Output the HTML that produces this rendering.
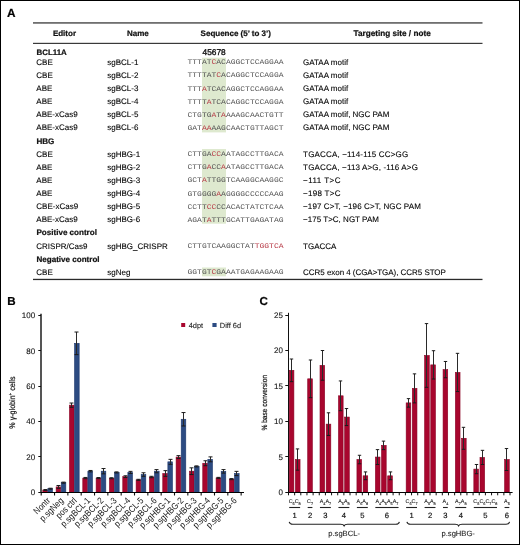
<!DOCTYPE html>
<html><head><meta charset="utf-8"><title>Figure</title>
<style>
html,body{margin:0;padding:0;background:#fff;}
body{width:520px;height:545px;overflow:hidden;font-family:"Liberation Sans",sans-serif;}
.fig{position:relative;width:520px;height:545px;background:#fff;}
svg{position:absolute;left:0;top:0;display:block;will-change:transform;text-rendering:geometricPrecision;}
</style></head><body>
<div class="fig">
<svg width="520" height="545" viewBox="0 0 520 545" font-family="Liberation Sans, sans-serif">
<text x="6.90" y="16.90" font-size="11.8" font-weight="bold" fill="#000" stroke="#000" stroke-width="0.22">A</text>
<rect x="33.00" y="22.00" width="449.50" height="1.80" fill="#707070"/>
<rect x="33.00" y="42.80" width="449.50" height="1.20" fill="#3a3a3a"/>
<rect x="33.00" y="278.80" width="449.50" height="1.30" fill="#2a2a2a"/>
<text x="52.90" y="35.80" font-size="8" font-weight="bold" fill="#111" stroke="#111" stroke-width="0.22">Editor</text>
<text x="127.00" y="35.80" font-size="8" font-weight="bold" fill="#111" stroke="#111" stroke-width="0.22">Name</text>
<text x="200.60" y="35.80" font-size="8" font-weight="bold" fill="#111" stroke="#111" stroke-width="0.22">Sequence (5’ to 3’)</text>
<text x="353.50" y="35.80" font-size="8.2" font-weight="bold" fill="#111" stroke="#111" stroke-width="0.22">Targeting site / note</text>
<rect x="202.00" y="57.70" width="24.00" height="74.70" fill="#dee9cf"/>
<rect x="202.00" y="149.00" width="24.00" height="74.70" fill="#dee9cf"/>
<rect x="202.00" y="267.50" width="24.00" height="8.80" fill="#dee9cf"/>
<text x="36.50" y="55.00" font-size="7.9" font-weight="bold" fill="#111" stroke="#111" stroke-width="0.22">BCL11A</text>
<text x="202.60" y="54.90" font-size="8.3" fill="#111" stroke="#111" stroke-width="0.35">45678</text>
<text x="36.30" y="64.85" font-size="8.0" fill="#000" stroke="#000" stroke-width="0.1">CBE</text>
<text x="107.30" y="64.85" font-size="8.0" fill="#000" stroke="#000" stroke-width="0.1">sgBCL-1</text>
<text transform="translate(187.5,64.35) scale(1,0.88)" font-size="8" font-family="Liberation Mono, monospace" fill="#555" textLength="96.0" lengthAdjust="spacing">TTTAT<tspan fill="#b83c48">C</tspan>ACAGGCTCCAGGAA</text>
<text x="303.10" y="64.85" font-size="8.0" fill="#000" stroke="#000" stroke-width="0.1">GATAA motif</text>
<text x="36.30" y="77.97" font-size="8.0" fill="#000" stroke="#000" stroke-width="0.1">CBE</text>
<text x="107.30" y="77.97" font-size="8.0" fill="#000" stroke="#000" stroke-width="0.1">sgBCL-2</text>
<text transform="translate(187.5,77.47) scale(1,0.88)" font-size="8" font-family="Liberation Mono, monospace" fill="#555" textLength="96.0" lengthAdjust="spacing">TTTTAT<tspan fill="#b83c48">C</tspan>ACAGGCTCCAGGA</text>
<text x="303.10" y="77.97" font-size="8.0" fill="#000" stroke="#000" stroke-width="0.1">GATAA motif</text>
<text x="36.30" y="91.09" font-size="8.0" fill="#000" stroke="#000" stroke-width="0.1">ABE</text>
<text x="107.30" y="91.09" font-size="8.0" fill="#000" stroke="#000" stroke-width="0.1">sgBCL-3</text>
<text transform="translate(187.5,90.59) scale(1,0.88)" font-size="8" font-family="Liberation Mono, monospace" fill="#555" textLength="96.0" lengthAdjust="spacing">TTT<tspan fill="#b83c48">A</tspan>TCACAGGCTCCAGGAA</text>
<text x="303.10" y="91.09" font-size="8.0" fill="#000" stroke="#000" stroke-width="0.1">GATAA motif</text>
<text x="36.30" y="104.21" font-size="8.0" fill="#000" stroke="#000" stroke-width="0.1">ABE</text>
<text x="107.30" y="104.21" font-size="8.0" fill="#000" stroke="#000" stroke-width="0.1">sgBCL-4</text>
<text transform="translate(187.5,103.71) scale(1,0.88)" font-size="8" font-family="Liberation Mono, monospace" fill="#555" textLength="96.0" lengthAdjust="spacing">TTTT<tspan fill="#b83c48">A</tspan>TCACAGGCTCCAGGA</text>
<text x="303.10" y="104.21" font-size="8.0" fill="#000" stroke="#000" stroke-width="0.1">GATAA motif</text>
<text x="36.30" y="117.33" font-size="8.0" fill="#000" stroke="#000" stroke-width="0.1">ABE-xCas9</text>
<text x="107.30" y="117.33" font-size="8.0" fill="#000" stroke="#000" stroke-width="0.1">sgBCL-5</text>
<text transform="translate(187.5,116.83) scale(1,0.88)" font-size="8" font-family="Liberation Mono, monospace" fill="#555" textLength="96.0" lengthAdjust="spacing">CTGTG<tspan fill="#b83c48">A</tspan>T<tspan fill="#b83c48">A</tspan>AAAGCAACTGTT</text>
<text x="303.10" y="117.33" font-size="8.0" fill="#000" stroke="#000" stroke-width="0.1">GATAA motif, NGC PAM</text>
<text x="36.30" y="130.45" font-size="8.0" fill="#000" stroke="#000" stroke-width="0.1">ABE-xCas9</text>
<text x="107.30" y="130.45" font-size="8.0" fill="#000" stroke="#000" stroke-width="0.1">sgBCL-6</text>
<text transform="translate(187.5,129.95) scale(1,0.88)" font-size="8" font-family="Liberation Mono, monospace" fill="#555" textLength="96.0" lengthAdjust="spacing">GAT<tspan fill="#b83c48">AA</tspan>AAGCAACTGTTAGCT</text>
<text x="303.10" y="130.45" font-size="8.0" fill="#000" stroke="#000" stroke-width="0.1">GATAA motif, NGC PAM</text>
<text x="36.50" y="143.57" font-size="8.05" font-weight="bold" fill="#111" stroke="#111" stroke-width="0.22">HBG</text>
<text x="36.30" y="156.69" font-size="8.0" fill="#000" stroke="#000" stroke-width="0.1">CBE</text>
<text x="107.30" y="156.69" font-size="8.0" fill="#000" stroke="#000" stroke-width="0.1">sgHBG-1</text>
<text transform="translate(187.5,156.19) scale(1,0.88)" font-size="8" font-family="Liberation Mono, monospace" fill="#555" textLength="96.0" lengthAdjust="spacing">CTTGA<tspan fill="#b83c48">CC</tspan>AATAGCCTTGACA</text>
<text x="303.10" y="156.69" font-size="8.0" fill="#000" textLength="105.10" lengthAdjust="spacing" stroke="#000" stroke-width="0.1">TGACCA, −114-115 CC&gt;GG</text>
<text x="36.30" y="169.81" font-size="8.0" fill="#000" stroke="#000" stroke-width="0.1">ABE</text>
<text x="107.30" y="169.81" font-size="8.0" fill="#000" stroke="#000" stroke-width="0.1">sgHBG-2</text>
<text transform="translate(187.5,169.31) scale(1,0.88)" font-size="8" font-family="Liberation Mono, monospace" fill="#555" textLength="96.0" lengthAdjust="spacing">CTTG<tspan fill="#b83c48">A</tspan>CC<tspan fill="#b83c48">A</tspan>ATAGCCTTGACA</text>
<text x="303.10" y="169.81" font-size="8.0" fill="#000" textLength="114.80" lengthAdjust="spacing" stroke="#000" stroke-width="0.1">TGACCA, −113 A&gt;G, -116 A&gt;G</text>
<text x="36.30" y="182.93" font-size="8.0" fill="#000" stroke="#000" stroke-width="0.1">ABE</text>
<text x="107.30" y="182.93" font-size="8.0" fill="#000" stroke="#000" stroke-width="0.1">sgHBG-3</text>
<text transform="translate(187.5,182.43) scale(1,0.88)" font-size="8" font-family="Liberation Mono, monospace" fill="#555" textLength="96.0" lengthAdjust="spacing">GCT<tspan fill="#b83c48">A</tspan>TTGGTCAAGGCAAGGC</text>
<text x="303.10" y="182.93" font-size="8.0" fill="#000" textLength="37.40" lengthAdjust="spacing" stroke="#000" stroke-width="0.1">−111 T&gt;C</text>
<text x="36.30" y="196.05" font-size="8.0" fill="#000" stroke="#000" stroke-width="0.1">ABE</text>
<text x="107.30" y="196.05" font-size="8.0" fill="#000" stroke="#000" stroke-width="0.1">sgHBG-4</text>
<text transform="translate(187.5,195.55) scale(1,0.88)" font-size="8" font-family="Liberation Mono, monospace" fill="#555" textLength="96.0" lengthAdjust="spacing">GTGGGG<tspan fill="#b83c48">A</tspan>AGGGGCCCCCAAG</text>
<text x="303.10" y="196.05" font-size="8.0" fill="#000" textLength="37.40" lengthAdjust="spacing" stroke="#000" stroke-width="0.1">−198 T&gt;C</text>
<text x="36.30" y="209.17" font-size="8.0" fill="#000" stroke="#000" stroke-width="0.1">CBE-xCas9</text>
<text x="107.30" y="209.17" font-size="8.0" fill="#000" stroke="#000" stroke-width="0.1">sgHBG-5</text>
<text transform="translate(187.5,208.67) scale(1,0.88)" font-size="8" font-family="Liberation Mono, monospace" fill="#555" textLength="96.0" lengthAdjust="spacing">CCTT<tspan fill="#b83c48">CC</tspan>CCACACTATCTCAA</text>
<text x="303.10" y="209.17" font-size="8.0" fill="#000" textLength="117.70" lengthAdjust="spacing" stroke="#000" stroke-width="0.1">−197 C&gt;T, −196 C&gt;T, NGC PAM</text>
<text x="36.30" y="222.29" font-size="8.0" fill="#000" stroke="#000" stroke-width="0.1">ABE-xCas9</text>
<text x="107.30" y="222.29" font-size="8.0" fill="#000" stroke="#000" stroke-width="0.1">sgHBG-6</text>
<text transform="translate(187.5,221.79) scale(1,0.88)" font-size="8" font-family="Liberation Mono, monospace" fill="#555" textLength="96.0" lengthAdjust="spacing">AGAT<tspan fill="#b83c48">A</tspan>TTTGCATTGAGATAG</text>
<text x="303.10" y="222.29" font-size="8.0" fill="#000" textLength="75.80" lengthAdjust="spacing" stroke="#000" stroke-width="0.1">−175 T&gt;C, NGT PAM</text>
<text x="36.50" y="235.41" font-size="8.05" font-weight="bold" fill="#111" stroke="#111" stroke-width="0.22">Positive control</text>
<text x="36.30" y="248.53" font-size="8.0" fill="#000" stroke="#000" stroke-width="0.1">CRISPR/Cas9</text>
<text x="107.30" y="248.53" font-size="8.0" fill="#000" stroke="#000" stroke-width="0.1">sgHBG_CRISPR</text>
<text transform="translate(187.5,248.03) scale(1,0.88)" font-size="8" font-family="Liberation Mono, monospace" fill="#555" textLength="96.0" lengthAdjust="spacing">CTTGTCAAGGCTAT<tspan fill="#b83c48">TGGTCA</tspan></text>
<text x="303.10" y="248.53" font-size="8.0" fill="#000" stroke="#000" stroke-width="0.1">TGACCA</text>
<text x="36.50" y="261.65" font-size="8.05" font-weight="bold" fill="#111" stroke="#111" stroke-width="0.22">Negative control</text>
<text x="36.30" y="274.77" font-size="8.0" fill="#000" stroke="#000" stroke-width="0.1">CBE</text>
<text x="107.30" y="274.77" font-size="8.0" fill="#000" stroke="#000" stroke-width="0.1">sgNeg</text>
<text transform="translate(187.5,274.27) scale(1,0.88)" font-size="8" font-family="Liberation Mono, monospace" fill="#555" textLength="96.0" lengthAdjust="spacing">GGTGT<tspan fill="#b83c48">C</tspan>GAAATGAGAAGAAG</text>
<text x="303.10" y="274.77" font-size="8.0" fill="#000" textLength="142.80" lengthAdjust="spacing" stroke="#000" stroke-width="0.1">CCR5 exon 4 (CGA&gt;TGA), CCR5 STOP</text>
<text x="7.20" y="304.60" font-size="11.6" font-weight="bold" fill="#000" stroke="#000" stroke-width="0.22">B</text>
<rect x="42.80" y="489.99" width="4.60" height="2.21" fill="#a8062e" stroke="#8a0024" stroke-width="0.6"/>
<line x1="45.50" y1="489.55" x2="45.50" y2="490.43" stroke="#2a2a2a" stroke-width="1.0"/>
<line x1="43.50" y1="489.55" x2="47.50" y2="489.55" stroke="#1a1a1a" stroke-width="1"/>
<line x1="43.50" y1="490.43" x2="47.50" y2="490.43" stroke="#1a1a1a" stroke-width="1"/>
<rect x="47.90" y="488.67" width="4.60" height="3.53" fill="#2c4b82" stroke="#1c366c" stroke-width="0.6"/>
<line x1="50.50" y1="488.23" x2="50.50" y2="489.11" stroke="#2a2a2a" stroke-width="1.0"/>
<line x1="48.50" y1="488.23" x2="52.50" y2="488.23" stroke="#1a1a1a" stroke-width="1"/>
<line x1="48.50" y1="489.11" x2="52.50" y2="489.11" stroke="#1a1a1a" stroke-width="1"/>
<text transform="translate(50.77,501.20) rotate(-45) scale(0.92,1.06)" font-size="8.6" text-anchor="end" fill="#111">Nontr</text>
<rect x="56.13" y="486.90" width="4.60" height="5.30" fill="#a8062e" stroke="#8a0024" stroke-width="0.6"/>
<line x1="58.50" y1="485.49" x2="58.50" y2="488.31" stroke="#2a2a2a" stroke-width="1.0"/>
<line x1="56.50" y1="485.49" x2="60.50" y2="485.49" stroke="#1a1a1a" stroke-width="1"/>
<line x1="56.50" y1="488.31" x2="60.50" y2="488.31" stroke="#1a1a1a" stroke-width="1"/>
<rect x="61.23" y="482.66" width="4.60" height="9.54" fill="#2c4b82" stroke="#1c366c" stroke-width="0.6"/>
<line x1="63.50" y1="482.13" x2="63.50" y2="483.19" stroke="#2a2a2a" stroke-width="1.0"/>
<line x1="61.50" y1="482.13" x2="65.50" y2="482.13" stroke="#1a1a1a" stroke-width="1"/>
<line x1="61.50" y1="483.19" x2="65.50" y2="483.19" stroke="#1a1a1a" stroke-width="1"/>
<text transform="translate(64.09,501.20) rotate(-45) scale(0.92,1.06)" font-size="8.6" text-anchor="end" fill="#111">p.sgNeg</text>
<rect x="69.46" y="405.14" width="4.60" height="87.06" fill="#a8062e" stroke="#8a0024" stroke-width="0.6"/>
<line x1="71.50" y1="403.02" x2="71.50" y2="407.26" stroke="#2a2a2a" stroke-width="1.0"/>
<line x1="69.50" y1="403.02" x2="73.50" y2="403.02" stroke="#1a1a1a" stroke-width="1"/>
<line x1="69.50" y1="407.26" x2="73.50" y2="407.26" stroke="#1a1a1a" stroke-width="1"/>
<rect x="74.56" y="343.33" width="4.60" height="148.87" fill="#2c4b82" stroke="#1c366c" stroke-width="0.6"/>
<line x1="76.50" y1="332.02" x2="76.50" y2="354.63" stroke="#2a2a2a" stroke-width="1.0"/>
<line x1="74.50" y1="332.02" x2="78.50" y2="332.02" stroke="#1a1a1a" stroke-width="1"/>
<line x1="74.50" y1="354.63" x2="78.50" y2="354.63" stroke="#1a1a1a" stroke-width="1"/>
<text transform="translate(77.43,501.20) rotate(-45) scale(0.92,1.06)" font-size="8.6" text-anchor="end" fill="#111">pos ctrl</text>
<rect x="82.79" y="478.07" width="4.60" height="14.13" fill="#a8062e" stroke="#8a0024" stroke-width="0.6"/>
<line x1="85.50" y1="477.45" x2="85.50" y2="478.69" stroke="#2a2a2a" stroke-width="1.0"/>
<line x1="83.50" y1="477.45" x2="87.50" y2="477.45" stroke="#1a1a1a" stroke-width="1"/>
<line x1="83.50" y1="478.69" x2="87.50" y2="478.69" stroke="#1a1a1a" stroke-width="1"/>
<rect x="87.89" y="471.18" width="4.60" height="21.02" fill="#2c4b82" stroke="#1c366c" stroke-width="0.6"/>
<line x1="90.50" y1="470.48" x2="90.50" y2="471.89" stroke="#2a2a2a" stroke-width="1.0"/>
<line x1="88.50" y1="470.48" x2="92.50" y2="470.48" stroke="#1a1a1a" stroke-width="1"/>
<line x1="88.50" y1="471.89" x2="92.50" y2="471.89" stroke="#1a1a1a" stroke-width="1"/>
<text transform="translate(90.76,501.20) rotate(-45) scale(0.92,1.06)" font-size="8.6" text-anchor="end" fill="#111">p.sgBCL-1</text>
<rect x="96.12" y="478.07" width="4.60" height="14.13" fill="#a8062e" stroke="#8a0024" stroke-width="0.6"/>
<line x1="98.50" y1="477.54" x2="98.50" y2="478.60" stroke="#2a2a2a" stroke-width="1.0"/>
<line x1="96.50" y1="477.54" x2="100.50" y2="477.54" stroke="#1a1a1a" stroke-width="1"/>
<line x1="96.50" y1="478.60" x2="100.50" y2="478.60" stroke="#1a1a1a" stroke-width="1"/>
<rect x="101.22" y="471.18" width="4.60" height="21.02" fill="#2c4b82" stroke="#1c366c" stroke-width="0.6"/>
<line x1="103.50" y1="468.54" x2="103.50" y2="473.83" stroke="#2a2a2a" stroke-width="1.0"/>
<line x1="101.50" y1="468.54" x2="105.50" y2="468.54" stroke="#1a1a1a" stroke-width="1"/>
<line x1="101.50" y1="473.83" x2="105.50" y2="473.83" stroke="#1a1a1a" stroke-width="1"/>
<text transform="translate(104.09,501.20) rotate(-45) scale(0.92,1.06)" font-size="8.6" text-anchor="end" fill="#111">p.sgBCL-2</text>
<rect x="109.45" y="478.25" width="4.60" height="13.95" fill="#a8062e" stroke="#8a0024" stroke-width="0.6"/>
<line x1="111.50" y1="477.72" x2="111.50" y2="478.78" stroke="#2a2a2a" stroke-width="1.0"/>
<line x1="109.50" y1="477.72" x2="113.50" y2="477.72" stroke="#1a1a1a" stroke-width="1"/>
<line x1="109.50" y1="478.78" x2="113.50" y2="478.78" stroke="#1a1a1a" stroke-width="1"/>
<rect x="114.55" y="472.42" width="4.60" height="19.78" fill="#2c4b82" stroke="#1c366c" stroke-width="0.6"/>
<line x1="116.50" y1="471.89" x2="116.50" y2="472.95" stroke="#2a2a2a" stroke-width="1.0"/>
<line x1="114.50" y1="471.89" x2="118.50" y2="471.89" stroke="#1a1a1a" stroke-width="1"/>
<line x1="114.50" y1="472.95" x2="118.50" y2="472.95" stroke="#1a1a1a" stroke-width="1"/>
<text transform="translate(117.42,501.20) rotate(-45) scale(0.92,1.06)" font-size="8.6" text-anchor="end" fill="#111">p.sgBCL-3</text>
<rect x="122.78" y="476.66" width="4.60" height="15.54" fill="#a8062e" stroke="#8a0024" stroke-width="0.6"/>
<line x1="125.50" y1="475.78" x2="125.50" y2="477.54" stroke="#2a2a2a" stroke-width="1.0"/>
<line x1="123.50" y1="475.78" x2="127.50" y2="475.78" stroke="#1a1a1a" stroke-width="1"/>
<line x1="123.50" y1="477.54" x2="127.50" y2="477.54" stroke="#1a1a1a" stroke-width="1"/>
<rect x="127.88" y="472.42" width="4.60" height="19.78" fill="#2c4b82" stroke="#1c366c" stroke-width="0.6"/>
<line x1="130.50" y1="471.36" x2="130.50" y2="473.48" stroke="#2a2a2a" stroke-width="1.0"/>
<line x1="128.50" y1="471.36" x2="132.50" y2="471.36" stroke="#1a1a1a" stroke-width="1"/>
<line x1="128.50" y1="473.48" x2="132.50" y2="473.48" stroke="#1a1a1a" stroke-width="1"/>
<text transform="translate(130.75,501.20) rotate(-45) scale(0.92,1.06)" font-size="8.6" text-anchor="end" fill="#111">p.sgBCL-4</text>
<rect x="136.11" y="479.84" width="4.60" height="12.36" fill="#a8062e" stroke="#8a0024" stroke-width="0.6"/>
<line x1="138.50" y1="479.31" x2="138.50" y2="480.37" stroke="#2a2a2a" stroke-width="1.0"/>
<line x1="136.50" y1="479.31" x2="140.50" y2="479.31" stroke="#1a1a1a" stroke-width="1"/>
<line x1="136.50" y1="480.37" x2="140.50" y2="480.37" stroke="#1a1a1a" stroke-width="1"/>
<rect x="141.21" y="474.54" width="4.60" height="17.66" fill="#2c4b82" stroke="#1c366c" stroke-width="0.6"/>
<line x1="143.50" y1="472.77" x2="143.50" y2="476.31" stroke="#2a2a2a" stroke-width="1.0"/>
<line x1="141.50" y1="472.77" x2="145.50" y2="472.77" stroke="#1a1a1a" stroke-width="1"/>
<line x1="141.50" y1="476.31" x2="145.50" y2="476.31" stroke="#1a1a1a" stroke-width="1"/>
<text transform="translate(144.07,501.20) rotate(-45) scale(0.92,1.06)" font-size="8.6" text-anchor="end" fill="#111">p.sgBCL-5</text>
<rect x="149.44" y="477.01" width="4.60" height="15.19" fill="#a8062e" stroke="#8a0024" stroke-width="0.6"/>
<line x1="151.50" y1="476.31" x2="151.50" y2="477.72" stroke="#2a2a2a" stroke-width="1.0"/>
<line x1="149.50" y1="476.31" x2="153.50" y2="476.31" stroke="#1a1a1a" stroke-width="1"/>
<line x1="149.50" y1="477.72" x2="153.50" y2="477.72" stroke="#1a1a1a" stroke-width="1"/>
<rect x="154.54" y="471.18" width="4.60" height="21.02" fill="#2c4b82" stroke="#1c366c" stroke-width="0.6"/>
<line x1="156.50" y1="469.60" x2="156.50" y2="472.77" stroke="#2a2a2a" stroke-width="1.0"/>
<line x1="154.50" y1="469.60" x2="158.50" y2="469.60" stroke="#1a1a1a" stroke-width="1"/>
<line x1="154.50" y1="472.77" x2="158.50" y2="472.77" stroke="#1a1a1a" stroke-width="1"/>
<text transform="translate(157.41,501.20) rotate(-45) scale(0.92,1.06)" font-size="8.6" text-anchor="end" fill="#111">p.sgBCL-6</text>
<rect x="162.77" y="473.48" width="4.60" height="18.72" fill="#a8062e" stroke="#8a0024" stroke-width="0.6"/>
<line x1="165.50" y1="470.65" x2="165.50" y2="476.31" stroke="#2a2a2a" stroke-width="1.0"/>
<line x1="163.50" y1="470.65" x2="167.50" y2="470.65" stroke="#1a1a1a" stroke-width="1"/>
<line x1="163.50" y1="476.31" x2="167.50" y2="476.31" stroke="#1a1a1a" stroke-width="1"/>
<rect x="167.87" y="461.82" width="4.60" height="30.38" fill="#2c4b82" stroke="#1c366c" stroke-width="0.6"/>
<line x1="170.50" y1="459.35" x2="170.50" y2="464.30" stroke="#2a2a2a" stroke-width="1.0"/>
<line x1="168.50" y1="459.35" x2="172.50" y2="459.35" stroke="#1a1a1a" stroke-width="1"/>
<line x1="168.50" y1="464.30" x2="172.50" y2="464.30" stroke="#1a1a1a" stroke-width="1"/>
<text transform="translate(170.74,501.20) rotate(-45) scale(0.92,1.06)" font-size="8.6" text-anchor="end" fill="#111">p.sgHBG-1</text>
<rect x="176.10" y="457.06" width="4.60" height="35.14" fill="#a8062e" stroke="#8a0024" stroke-width="0.6"/>
<line x1="178.50" y1="455.64" x2="178.50" y2="458.47" stroke="#2a2a2a" stroke-width="1.0"/>
<line x1="176.50" y1="455.64" x2="180.50" y2="455.64" stroke="#1a1a1a" stroke-width="1"/>
<line x1="176.50" y1="458.47" x2="180.50" y2="458.47" stroke="#1a1a1a" stroke-width="1"/>
<rect x="181.20" y="419.26" width="4.60" height="72.94" fill="#2c4b82" stroke="#1c366c" stroke-width="0.6"/>
<line x1="183.50" y1="412.55" x2="183.50" y2="425.98" stroke="#2a2a2a" stroke-width="1.0"/>
<line x1="181.50" y1="412.55" x2="185.50" y2="412.55" stroke="#1a1a1a" stroke-width="1"/>
<line x1="181.50" y1="425.98" x2="185.50" y2="425.98" stroke="#1a1a1a" stroke-width="1"/>
<text transform="translate(184.06,501.20) rotate(-45) scale(0.92,1.06)" font-size="8.6" text-anchor="end" fill="#111">p.sgHBG-2</text>
<rect x="189.43" y="471.18" width="4.60" height="21.02" fill="#a8062e" stroke="#8a0024" stroke-width="0.6"/>
<line x1="191.50" y1="467.83" x2="191.50" y2="474.54" stroke="#2a2a2a" stroke-width="1.0"/>
<line x1="189.50" y1="467.83" x2="193.50" y2="467.83" stroke="#1a1a1a" stroke-width="1"/>
<line x1="189.50" y1="474.54" x2="193.50" y2="474.54" stroke="#1a1a1a" stroke-width="1"/>
<rect x="194.53" y="466.42" width="4.60" height="25.78" fill="#2c4b82" stroke="#1c366c" stroke-width="0.6"/>
<line x1="196.50" y1="465.89" x2="196.50" y2="466.95" stroke="#2a2a2a" stroke-width="1.0"/>
<line x1="194.50" y1="465.89" x2="198.50" y2="465.89" stroke="#1a1a1a" stroke-width="1"/>
<line x1="194.50" y1="466.95" x2="198.50" y2="466.95" stroke="#1a1a1a" stroke-width="1"/>
<text transform="translate(197.39,501.20) rotate(-45) scale(0.92,1.06)" font-size="8.6" text-anchor="end" fill="#111">p.sgHBG-3</text>
<rect x="202.76" y="463.24" width="4.60" height="28.96" fill="#a8062e" stroke="#8a0024" stroke-width="0.6"/>
<line x1="205.50" y1="460.77" x2="205.50" y2="465.71" stroke="#2a2a2a" stroke-width="1.0"/>
<line x1="203.50" y1="460.77" x2="207.50" y2="460.77" stroke="#1a1a1a" stroke-width="1"/>
<line x1="203.50" y1="465.71" x2="207.50" y2="465.71" stroke="#1a1a1a" stroke-width="1"/>
<rect x="207.86" y="459.35" width="4.60" height="32.85" fill="#2c4b82" stroke="#1c366c" stroke-width="0.6"/>
<line x1="210.50" y1="456.88" x2="210.50" y2="461.82" stroke="#2a2a2a" stroke-width="1.0"/>
<line x1="208.50" y1="456.88" x2="212.50" y2="456.88" stroke="#1a1a1a" stroke-width="1"/>
<line x1="208.50" y1="461.82" x2="212.50" y2="461.82" stroke="#1a1a1a" stroke-width="1"/>
<text transform="translate(210.73,501.20) rotate(-45) scale(0.92,1.06)" font-size="8.6" text-anchor="end" fill="#111">p.sgHBG-4</text>
<rect x="216.09" y="477.90" width="4.60" height="14.30" fill="#a8062e" stroke="#8a0024" stroke-width="0.6"/>
<line x1="218.50" y1="477.37" x2="218.50" y2="478.43" stroke="#2a2a2a" stroke-width="1.0"/>
<line x1="216.50" y1="477.37" x2="220.50" y2="477.37" stroke="#1a1a1a" stroke-width="1"/>
<line x1="216.50" y1="478.43" x2="220.50" y2="478.43" stroke="#1a1a1a" stroke-width="1"/>
<rect x="221.19" y="471.36" width="4.60" height="20.84" fill="#2c4b82" stroke="#1c366c" stroke-width="0.6"/>
<line x1="223.50" y1="469.60" x2="223.50" y2="473.13" stroke="#2a2a2a" stroke-width="1.0"/>
<line x1="221.50" y1="469.60" x2="225.50" y2="469.60" stroke="#1a1a1a" stroke-width="1"/>
<line x1="221.50" y1="473.13" x2="225.50" y2="473.13" stroke="#1a1a1a" stroke-width="1"/>
<text transform="translate(224.06,501.20) rotate(-45) scale(0.92,1.06)" font-size="8.6" text-anchor="end" fill="#111">p.sgHBG-5</text>
<rect x="229.42" y="479.13" width="4.60" height="13.07" fill="#a8062e" stroke="#8a0024" stroke-width="0.6"/>
<line x1="231.50" y1="478.60" x2="231.50" y2="479.66" stroke="#2a2a2a" stroke-width="1.0"/>
<line x1="229.50" y1="478.60" x2="233.50" y2="478.60" stroke="#1a1a1a" stroke-width="1"/>
<line x1="229.50" y1="479.66" x2="233.50" y2="479.66" stroke="#1a1a1a" stroke-width="1"/>
<rect x="234.52" y="473.48" width="4.60" height="18.72" fill="#2c4b82" stroke="#1c366c" stroke-width="0.6"/>
<line x1="236.50" y1="471.36" x2="236.50" y2="475.60" stroke="#2a2a2a" stroke-width="1.0"/>
<line x1="234.50" y1="471.36" x2="238.50" y2="471.36" stroke="#1a1a1a" stroke-width="1"/>
<line x1="234.50" y1="475.60" x2="238.50" y2="475.60" stroke="#1a1a1a" stroke-width="1"/>
<text transform="translate(237.38,501.20) rotate(-45) scale(0.92,1.06)" font-size="8.6" text-anchor="end" fill="#111">p.sgHBG-6</text>
<line x1="41.00" y1="313.80" x2="41.00" y2="492.70" stroke="#555" stroke-width="2.0"/>
<line x1="40.40" y1="492.50" x2="244.00" y2="492.50" stroke="#000" stroke-width="1.0"/>
<line x1="38.30" y1="492.50" x2="41.00" y2="492.50" stroke="#111" stroke-width="1"/>
<text x="35.20" y="495.00" font-size="8" text-anchor="end" fill="#111" stroke="#111" stroke-width="0.1">0</text>
<line x1="38.30" y1="456.50" x2="41.00" y2="456.50" stroke="#111" stroke-width="1"/>
<text x="35.20" y="459.68" font-size="8" text-anchor="end" fill="#111" stroke="#111" stroke-width="0.1">20</text>
<line x1="38.30" y1="421.50" x2="41.00" y2="421.50" stroke="#111" stroke-width="1"/>
<text x="35.20" y="424.36" font-size="8" text-anchor="end" fill="#111" stroke="#111" stroke-width="0.1">40</text>
<line x1="38.30" y1="386.50" x2="41.00" y2="386.50" stroke="#111" stroke-width="1"/>
<text x="35.20" y="389.04" font-size="8" text-anchor="end" fill="#111" stroke="#111" stroke-width="0.1">60</text>
<line x1="38.30" y1="350.50" x2="41.00" y2="350.50" stroke="#111" stroke-width="1"/>
<text x="35.20" y="353.72" font-size="8" text-anchor="end" fill="#111" stroke="#111" stroke-width="0.1">80</text>
<line x1="38.30" y1="315.50" x2="41.00" y2="315.50" stroke="#111" stroke-width="1"/>
<text x="35.20" y="318.40" font-size="8" text-anchor="end" fill="#111" stroke="#111" stroke-width="0.1">100</text>
<line x1="41.20" y1="493.00" x2="41.20" y2="495.50" stroke="#111" stroke-width="1.1"/>
<line x1="54.53" y1="493.00" x2="54.53" y2="495.50" stroke="#111" stroke-width="1.1"/>
<line x1="67.86" y1="493.00" x2="67.86" y2="495.50" stroke="#111" stroke-width="1.1"/>
<line x1="81.19" y1="493.00" x2="81.19" y2="495.50" stroke="#111" stroke-width="1.1"/>
<line x1="94.52" y1="493.00" x2="94.52" y2="495.50" stroke="#111" stroke-width="1.1"/>
<line x1="107.85" y1="493.00" x2="107.85" y2="495.50" stroke="#111" stroke-width="1.1"/>
<line x1="121.18" y1="493.00" x2="121.18" y2="495.50" stroke="#111" stroke-width="1.1"/>
<line x1="134.51" y1="493.00" x2="134.51" y2="495.50" stroke="#111" stroke-width="1.1"/>
<line x1="147.84" y1="493.00" x2="147.84" y2="495.50" stroke="#111" stroke-width="1.1"/>
<line x1="161.17" y1="493.00" x2="161.17" y2="495.50" stroke="#111" stroke-width="1.1"/>
<line x1="174.50" y1="493.00" x2="174.50" y2="495.50" stroke="#111" stroke-width="1.1"/>
<line x1="187.83" y1="493.00" x2="187.83" y2="495.50" stroke="#111" stroke-width="1.1"/>
<line x1="201.16" y1="493.00" x2="201.16" y2="495.50" stroke="#111" stroke-width="1.1"/>
<line x1="214.49" y1="493.00" x2="214.49" y2="495.50" stroke="#111" stroke-width="1.1"/>
<line x1="227.82" y1="493.00" x2="227.82" y2="495.50" stroke="#111" stroke-width="1.1"/>
<line x1="241.15" y1="493.00" x2="241.15" y2="495.50" stroke="#111" stroke-width="1.1"/>
<rect x="181.20" y="323.00" width="4.00" height="4.00" fill="#a8062e"/>
<text x="188.70" y="327.60" font-size="7.4" fill="#222" stroke="#222" stroke-width="0.1">4dpt</text>
<rect x="212.40" y="323.00" width="4.20" height="4.00" fill="#2c4b82"/>
<text x="219.80" y="327.60" font-size="7.4" fill="#222" stroke="#222" stroke-width="0.1">Diff 6d</text>
<text transform="translate(15.2,402.6) rotate(-90) scale(0.87,1)" font-size="8.2" text-anchor="middle" fill="#111" stroke="#111" stroke-width="0.2">% γ-globin<tspan font-size="5.2" dy="-2.8">+</tspan><tspan dy="2.8"> cells</tspan></text>
<text x="259.50" y="304.70" font-size="11.6" font-weight="bold" fill="#000" stroke="#000" stroke-width="0.22">C</text>
<rect x="289.25" y="370.32" width="4.65" height="121.78" fill="#a8062e" stroke="#8a0024" stroke-width="0.6"/>
<line x1="291.50" y1="359.00" x2="291.50" y2="381.65" stroke="#2a2a2a" stroke-width="1.0"/>
<line x1="289.80" y1="359.00" x2="293.20" y2="359.00" stroke="#1a1a1a" stroke-width="1"/>
<line x1="289.80" y1="381.65" x2="293.20" y2="381.65" stroke="#1a1a1a" stroke-width="1"/>
<rect x="295.40" y="459.53" width="4.65" height="32.57" fill="#a8062e" stroke="#8a0024" stroke-width="0.6"/>
<line x1="297.50" y1="448.91" x2="297.50" y2="470.15" stroke="#2a2a2a" stroke-width="1.0"/>
<line x1="295.80" y1="448.91" x2="299.20" y2="448.91" stroke="#1a1a1a" stroke-width="1"/>
<line x1="295.80" y1="470.15" x2="299.20" y2="470.15" stroke="#1a1a1a" stroke-width="1"/>
<rect x="307.71" y="378.82" width="4.65" height="113.28" fill="#a8062e" stroke="#8a0024" stroke-width="0.6"/>
<line x1="310.50" y1="359.99" x2="310.50" y2="397.65" stroke="#2a2a2a" stroke-width="1.0"/>
<line x1="308.80" y1="359.99" x2="312.20" y2="359.99" stroke="#1a1a1a" stroke-width="1"/>
<line x1="308.80" y1="397.65" x2="312.20" y2="397.65" stroke="#1a1a1a" stroke-width="1"/>
<rect x="320.01" y="365.37" width="4.65" height="126.73" fill="#a8062e" stroke="#8a0024" stroke-width="0.6"/>
<line x1="322.50" y1="350.50" x2="322.50" y2="380.24" stroke="#2a2a2a" stroke-width="1.0"/>
<line x1="320.80" y1="350.50" x2="324.20" y2="350.50" stroke="#1a1a1a" stroke-width="1"/>
<line x1="320.80" y1="380.24" x2="324.20" y2="380.24" stroke="#1a1a1a" stroke-width="1"/>
<rect x="326.17" y="424.13" width="4.65" height="67.97" fill="#a8062e" stroke="#8a0024" stroke-width="0.6"/>
<line x1="328.50" y1="412.80" x2="328.50" y2="435.46" stroke="#2a2a2a" stroke-width="1.0"/>
<line x1="326.80" y1="412.80" x2="330.20" y2="412.80" stroke="#1a1a1a" stroke-width="1"/>
<line x1="326.80" y1="435.46" x2="330.20" y2="435.46" stroke="#1a1a1a" stroke-width="1"/>
<rect x="338.47" y="395.81" width="4.65" height="96.29" fill="#a8062e" stroke="#8a0024" stroke-width="0.6"/>
<line x1="340.50" y1="380.94" x2="340.50" y2="410.68" stroke="#2a2a2a" stroke-width="1.0"/>
<line x1="338.80" y1="380.94" x2="342.20" y2="380.94" stroke="#1a1a1a" stroke-width="1"/>
<line x1="338.80" y1="410.68" x2="342.20" y2="410.68" stroke="#1a1a1a" stroke-width="1"/>
<rect x="344.63" y="417.05" width="4.65" height="75.05" fill="#a8062e" stroke="#8a0024" stroke-width="0.6"/>
<line x1="346.50" y1="408.56" x2="346.50" y2="425.55" stroke="#2a2a2a" stroke-width="1.0"/>
<line x1="344.80" y1="408.56" x2="348.20" y2="408.56" stroke="#1a1a1a" stroke-width="1"/>
<line x1="344.80" y1="425.55" x2="348.20" y2="425.55" stroke="#1a1a1a" stroke-width="1"/>
<rect x="356.93" y="459.53" width="4.65" height="32.57" fill="#a8062e" stroke="#8a0024" stroke-width="0.6"/>
<line x1="359.50" y1="455.28" x2="359.50" y2="463.78" stroke="#2a2a2a" stroke-width="1.0"/>
<line x1="357.80" y1="455.28" x2="361.20" y2="455.28" stroke="#1a1a1a" stroke-width="1"/>
<line x1="357.80" y1="463.78" x2="361.20" y2="463.78" stroke="#1a1a1a" stroke-width="1"/>
<rect x="363.09" y="475.82" width="4.65" height="16.28" fill="#a8062e" stroke="#8a0024" stroke-width="0.6"/>
<line x1="365.50" y1="471.92" x2="365.50" y2="479.71" stroke="#2a2a2a" stroke-width="1.0"/>
<line x1="363.80" y1="471.92" x2="367.20" y2="471.92" stroke="#1a1a1a" stroke-width="1"/>
<line x1="363.80" y1="479.71" x2="367.20" y2="479.71" stroke="#1a1a1a" stroke-width="1"/>
<rect x="375.39" y="457.05" width="4.65" height="35.05" fill="#a8062e" stroke="#8a0024" stroke-width="0.6"/>
<line x1="377.50" y1="449.62" x2="377.50" y2="464.49" stroke="#2a2a2a" stroke-width="1.0"/>
<line x1="375.80" y1="449.62" x2="379.20" y2="449.62" stroke="#1a1a1a" stroke-width="1"/>
<line x1="375.80" y1="464.49" x2="379.20" y2="464.49" stroke="#1a1a1a" stroke-width="1"/>
<rect x="381.54" y="445.37" width="4.65" height="46.73" fill="#a8062e" stroke="#8a0024" stroke-width="0.6"/>
<line x1="383.50" y1="441.12" x2="383.50" y2="449.62" stroke="#2a2a2a" stroke-width="1.0"/>
<line x1="381.80" y1="441.12" x2="385.20" y2="441.12" stroke="#1a1a1a" stroke-width="1"/>
<line x1="381.80" y1="449.62" x2="385.20" y2="449.62" stroke="#1a1a1a" stroke-width="1"/>
<rect x="387.70" y="475.82" width="4.65" height="16.28" fill="#a8062e" stroke="#8a0024" stroke-width="0.6"/>
<line x1="390.50" y1="471.92" x2="390.50" y2="479.71" stroke="#2a2a2a" stroke-width="1.0"/>
<line x1="388.80" y1="471.92" x2="392.20" y2="471.92" stroke="#1a1a1a" stroke-width="1"/>
<line x1="388.80" y1="479.71" x2="392.20" y2="479.71" stroke="#1a1a1a" stroke-width="1"/>
<rect x="406.16" y="402.89" width="4.65" height="89.21" fill="#a8062e" stroke="#8a0024" stroke-width="0.6"/>
<line x1="408.50" y1="398.64" x2="408.50" y2="407.14" stroke="#2a2a2a" stroke-width="1.0"/>
<line x1="406.80" y1="398.64" x2="410.20" y2="398.64" stroke="#1a1a1a" stroke-width="1"/>
<line x1="406.80" y1="407.14" x2="410.20" y2="407.14" stroke="#1a1a1a" stroke-width="1"/>
<rect x="412.31" y="388.38" width="4.65" height="103.72" fill="#a8062e" stroke="#8a0024" stroke-width="0.6"/>
<line x1="414.50" y1="373.86" x2="414.50" y2="402.89" stroke="#2a2a2a" stroke-width="1.0"/>
<line x1="412.80" y1="373.86" x2="416.20" y2="373.86" stroke="#1a1a1a" stroke-width="1"/>
<line x1="412.80" y1="402.89" x2="416.20" y2="402.89" stroke="#1a1a1a" stroke-width="1"/>
<rect x="424.62" y="355.46" width="4.65" height="136.64" fill="#a8062e" stroke="#8a0024" stroke-width="0.6"/>
<line x1="426.50" y1="323.60" x2="426.50" y2="387.32" stroke="#2a2a2a" stroke-width="1.0"/>
<line x1="424.80" y1="323.60" x2="428.20" y2="323.60" stroke="#1a1a1a" stroke-width="1"/>
<line x1="424.80" y1="387.32" x2="428.20" y2="387.32" stroke="#1a1a1a" stroke-width="1"/>
<rect x="430.77" y="364.87" width="4.65" height="127.23" fill="#a8062e" stroke="#8a0024" stroke-width="0.6"/>
<line x1="433.50" y1="350.71" x2="433.50" y2="379.03" stroke="#2a2a2a" stroke-width="1.0"/>
<line x1="431.80" y1="350.71" x2="435.20" y2="350.71" stroke="#1a1a1a" stroke-width="1"/>
<line x1="431.80" y1="379.03" x2="435.20" y2="379.03" stroke="#1a1a1a" stroke-width="1"/>
<rect x="443.07" y="369.62" width="4.65" height="122.48" fill="#a8062e" stroke="#8a0024" stroke-width="0.6"/>
<line x1="445.50" y1="361.47" x2="445.50" y2="377.76" stroke="#2a2a2a" stroke-width="1.0"/>
<line x1="443.80" y1="361.47" x2="447.20" y2="361.47" stroke="#1a1a1a" stroke-width="1"/>
<line x1="443.80" y1="377.76" x2="447.20" y2="377.76" stroke="#1a1a1a" stroke-width="1"/>
<rect x="455.38" y="372.45" width="4.65" height="119.65" fill="#a8062e" stroke="#8a0024" stroke-width="0.6"/>
<line x1="457.50" y1="353.33" x2="457.50" y2="391.56" stroke="#2a2a2a" stroke-width="1.0"/>
<line x1="455.80" y1="353.33" x2="459.20" y2="353.33" stroke="#1a1a1a" stroke-width="1"/>
<line x1="455.80" y1="391.56" x2="459.20" y2="391.56" stroke="#1a1a1a" stroke-width="1"/>
<rect x="461.53" y="438.29" width="4.65" height="53.81" fill="#a8062e" stroke="#8a0024" stroke-width="0.6"/>
<line x1="463.50" y1="427.32" x2="463.50" y2="449.27" stroke="#2a2a2a" stroke-width="1.0"/>
<line x1="461.80" y1="427.32" x2="465.20" y2="427.32" stroke="#1a1a1a" stroke-width="1"/>
<line x1="461.80" y1="449.27" x2="465.20" y2="449.27" stroke="#1a1a1a" stroke-width="1"/>
<rect x="473.84" y="469.09" width="4.65" height="23.01" fill="#a8062e" stroke="#8a0024" stroke-width="0.6"/>
<line x1="476.50" y1="464.49" x2="476.50" y2="473.69" stroke="#2a2a2a" stroke-width="1.0"/>
<line x1="474.80" y1="464.49" x2="478.20" y2="464.49" stroke="#1a1a1a" stroke-width="1"/>
<line x1="474.80" y1="473.69" x2="478.20" y2="473.69" stroke="#1a1a1a" stroke-width="1"/>
<rect x="479.99" y="457.41" width="4.65" height="34.69" fill="#a8062e" stroke="#8a0024" stroke-width="0.6"/>
<line x1="482.50" y1="450.33" x2="482.50" y2="464.49" stroke="#2a2a2a" stroke-width="1.0"/>
<line x1="480.80" y1="450.33" x2="484.20" y2="450.33" stroke="#1a1a1a" stroke-width="1"/>
<line x1="480.80" y1="464.49" x2="484.20" y2="464.49" stroke="#1a1a1a" stroke-width="1"/>
<rect x="504.61" y="459.53" width="4.65" height="32.57" fill="#a8062e" stroke="#8a0024" stroke-width="0.6"/>
<line x1="506.50" y1="448.56" x2="506.50" y2="470.51" stroke="#2a2a2a" stroke-width="1.0"/>
<line x1="504.80" y1="448.56" x2="508.20" y2="448.56" stroke="#1a1a1a" stroke-width="1"/>
<line x1="504.80" y1="470.51" x2="508.20" y2="470.51" stroke="#1a1a1a" stroke-width="1"/>
<line x1="288.50" y1="312.80" x2="288.50" y2="492.60" stroke="#111" stroke-width="1"/>
<line x1="288.00" y1="492.50" x2="512.60" y2="492.50" stroke="#000" stroke-width="1.0"/>
<line x1="285.30" y1="492.50" x2="288.50" y2="492.50" stroke="#111" stroke-width="1"/>
<text x="282.90" y="494.90" font-size="8" text-anchor="end" fill="#111" stroke="#111" stroke-width="0.1">0</text>
<line x1="285.30" y1="456.50" x2="288.50" y2="456.50" stroke="#111" stroke-width="1"/>
<text x="282.90" y="459.50" font-size="8" text-anchor="end" fill="#111" stroke="#111" stroke-width="0.1">5</text>
<line x1="285.30" y1="421.50" x2="288.50" y2="421.50" stroke="#111" stroke-width="1"/>
<text x="282.90" y="424.10" font-size="8" text-anchor="end" fill="#111" stroke="#111" stroke-width="0.1">10</text>
<line x1="285.30" y1="385.50" x2="288.50" y2="385.50" stroke="#111" stroke-width="1"/>
<text x="282.90" y="388.70" font-size="8" text-anchor="end" fill="#111" stroke="#111" stroke-width="0.1">15</text>
<line x1="285.30" y1="350.50" x2="288.50" y2="350.50" stroke="#111" stroke-width="1"/>
<text x="282.90" y="353.30" font-size="8" text-anchor="end" fill="#111" stroke="#111" stroke-width="0.1">20</text>
<line x1="285.30" y1="315.50" x2="288.50" y2="315.50" stroke="#111" stroke-width="1"/>
<text x="282.90" y="317.90" font-size="8" text-anchor="end" fill="#111" stroke="#111" stroke-width="0.1">25</text>
<line x1="288.50" y1="493.00" x2="288.50" y2="495.30" stroke="#111" stroke-width="1.0"/>
<line x1="294.65" y1="493.00" x2="294.65" y2="495.30" stroke="#111" stroke-width="1.0"/>
<line x1="300.81" y1="493.00" x2="300.81" y2="495.30" stroke="#111" stroke-width="1.0"/>
<line x1="306.96" y1="493.00" x2="306.96" y2="495.30" stroke="#111" stroke-width="1.0"/>
<line x1="313.11" y1="493.00" x2="313.11" y2="495.30" stroke="#111" stroke-width="1.0"/>
<line x1="319.26" y1="493.00" x2="319.26" y2="495.30" stroke="#111" stroke-width="1.0"/>
<line x1="325.42" y1="493.00" x2="325.42" y2="495.30" stroke="#111" stroke-width="1.0"/>
<line x1="331.57" y1="493.00" x2="331.57" y2="495.30" stroke="#111" stroke-width="1.0"/>
<line x1="337.72" y1="493.00" x2="337.72" y2="495.30" stroke="#111" stroke-width="1.0"/>
<line x1="343.88" y1="493.00" x2="343.88" y2="495.30" stroke="#111" stroke-width="1.0"/>
<line x1="350.03" y1="493.00" x2="350.03" y2="495.30" stroke="#111" stroke-width="1.0"/>
<line x1="356.18" y1="493.00" x2="356.18" y2="495.30" stroke="#111" stroke-width="1.0"/>
<line x1="362.34" y1="493.00" x2="362.34" y2="495.30" stroke="#111" stroke-width="1.0"/>
<line x1="368.49" y1="493.00" x2="368.49" y2="495.30" stroke="#111" stroke-width="1.0"/>
<line x1="374.64" y1="493.00" x2="374.64" y2="495.30" stroke="#111" stroke-width="1.0"/>
<line x1="380.79" y1="493.00" x2="380.79" y2="495.30" stroke="#111" stroke-width="1.0"/>
<line x1="386.95" y1="493.00" x2="386.95" y2="495.30" stroke="#111" stroke-width="1.0"/>
<line x1="393.10" y1="493.00" x2="393.10" y2="495.30" stroke="#111" stroke-width="1.0"/>
<line x1="399.25" y1="493.00" x2="399.25" y2="495.30" stroke="#111" stroke-width="1.0"/>
<line x1="405.41" y1="493.00" x2="405.41" y2="495.30" stroke="#111" stroke-width="1.0"/>
<line x1="411.56" y1="493.00" x2="411.56" y2="495.30" stroke="#111" stroke-width="1.0"/>
<line x1="417.71" y1="493.00" x2="417.71" y2="495.30" stroke="#111" stroke-width="1.0"/>
<line x1="423.87" y1="493.00" x2="423.87" y2="495.30" stroke="#111" stroke-width="1.0"/>
<line x1="430.02" y1="493.00" x2="430.02" y2="495.30" stroke="#111" stroke-width="1.0"/>
<line x1="436.17" y1="493.00" x2="436.17" y2="495.30" stroke="#111" stroke-width="1.0"/>
<line x1="442.32" y1="493.00" x2="442.32" y2="495.30" stroke="#111" stroke-width="1.0"/>
<line x1="448.48" y1="493.00" x2="448.48" y2="495.30" stroke="#111" stroke-width="1.0"/>
<line x1="454.63" y1="493.00" x2="454.63" y2="495.30" stroke="#111" stroke-width="1.0"/>
<line x1="460.78" y1="493.00" x2="460.78" y2="495.30" stroke="#111" stroke-width="1.0"/>
<line x1="466.94" y1="493.00" x2="466.94" y2="495.30" stroke="#111" stroke-width="1.0"/>
<line x1="473.09" y1="493.00" x2="473.09" y2="495.30" stroke="#111" stroke-width="1.0"/>
<line x1="479.24" y1="493.00" x2="479.24" y2="495.30" stroke="#111" stroke-width="1.0"/>
<line x1="485.40" y1="493.00" x2="485.40" y2="495.30" stroke="#111" stroke-width="1.0"/>
<line x1="491.55" y1="493.00" x2="491.55" y2="495.30" stroke="#111" stroke-width="1.0"/>
<line x1="497.70" y1="493.00" x2="497.70" y2="495.30" stroke="#111" stroke-width="1.0"/>
<line x1="503.86" y1="493.00" x2="503.86" y2="495.30" stroke="#111" stroke-width="1.0"/>
<line x1="510.01" y1="493.00" x2="510.01" y2="495.30" stroke="#111" stroke-width="1.0"/>
<text x="288.64" y="502.80" font-size="5.4" fill="#222" stroke="#222" stroke-width="0.1">C</text>
<text x="292.54" y="505.00" font-size="3.8" fill="#222" stroke="#222" stroke-width="0.1">6</text>
<text x="294.65" y="502.80" font-size="5.4" fill="#222" stroke="#222" stroke-width="0.1">C</text>
<text x="298.55" y="505.00" font-size="3.8" fill="#222" stroke="#222" stroke-width="0.1">8</text>
<line x1="289.20" y1="507.50" x2="300.11" y2="507.50" stroke="#222" stroke-width="1.1"/>
<text x="294.65" y="517.50" font-size="7.6" text-anchor="middle" fill="#111" stroke="#111" stroke-width="0.18">1</text>
<text x="307.03" y="502.80" font-size="5.4" fill="#222" stroke="#222" stroke-width="0.1">C</text>
<text x="310.93" y="505.00" font-size="3.8" fill="#222" stroke="#222" stroke-width="0.1">7</text>
<line x1="307.66" y1="507.50" x2="312.41" y2="507.50" stroke="#222" stroke-width="1.1"/>
<text x="310.04" y="517.50" font-size="7.6" text-anchor="middle" fill="#111" stroke="#111" stroke-width="0.18">2</text>
<text x="319.70" y="502.80" font-size="5.4" fill="#222" stroke="#222" stroke-width="0.1">A</text>
<text x="323.31" y="505.00" font-size="3.8" fill="#222" stroke="#222" stroke-width="0.1">4</text>
<text x="325.42" y="502.80" font-size="5.4" fill="#222" stroke="#222" stroke-width="0.1">A</text>
<text x="329.02" y="505.00" font-size="3.8" fill="#222" stroke="#222" stroke-width="0.1">7</text>
<line x1="319.96" y1="507.50" x2="330.87" y2="507.50" stroke="#222" stroke-width="1.1"/>
<text x="325.42" y="517.50" font-size="7.6" text-anchor="middle" fill="#111" stroke="#111" stroke-width="0.18">3</text>
<text x="338.16" y="502.80" font-size="5.4" fill="#222" stroke="#222" stroke-width="0.1">A</text>
<text x="341.76" y="505.00" font-size="3.8" fill="#222" stroke="#222" stroke-width="0.1">5</text>
<text x="343.88" y="502.80" font-size="5.4" fill="#222" stroke="#222" stroke-width="0.1">A</text>
<text x="347.48" y="505.00" font-size="3.8" fill="#222" stroke="#222" stroke-width="0.1">8</text>
<line x1="338.42" y1="507.50" x2="349.33" y2="507.50" stroke="#222" stroke-width="1.1"/>
<text x="343.88" y="517.50" font-size="7.6" text-anchor="middle" fill="#111" stroke="#111" stroke-width="0.18">4</text>
<text x="356.62" y="502.80" font-size="5.4" fill="#222" stroke="#222" stroke-width="0.1">A</text>
<text x="360.22" y="505.00" font-size="3.8" fill="#222" stroke="#222" stroke-width="0.1">6</text>
<text x="362.34" y="502.80" font-size="5.4" fill="#222" stroke="#222" stroke-width="0.1">A</text>
<text x="365.94" y="505.00" font-size="3.8" fill="#222" stroke="#222" stroke-width="0.1">8</text>
<line x1="356.88" y1="507.50" x2="367.79" y2="507.50" stroke="#222" stroke-width="1.1"/>
<text x="362.34" y="517.50" font-size="7.6" text-anchor="middle" fill="#111" stroke="#111" stroke-width="0.18">5</text>
<text x="375.52" y="502.80" font-size="5.4" fill="#222" stroke="#222" stroke-width="0.1">A</text>
<text x="379.12" y="505.00" font-size="3.8" fill="#222" stroke="#222" stroke-width="0.1">4</text>
<text x="381.23" y="502.80" font-size="5.4" fill="#222" stroke="#222" stroke-width="0.1">A</text>
<text x="384.84" y="505.00" font-size="3.8" fill="#222" stroke="#222" stroke-width="0.1">5</text>
<text x="386.95" y="502.80" font-size="5.4" fill="#222" stroke="#222" stroke-width="0.1">A</text>
<text x="390.55" y="505.00" font-size="3.8" fill="#222" stroke="#222" stroke-width="0.1">6</text>
<text x="392.66" y="502.80" font-size="5.4" fill="#222" stroke="#222" stroke-width="0.1">A</text>
<text x="396.26" y="505.00" font-size="3.8" fill="#222" stroke="#222" stroke-width="0.1">7</text>
<line x1="375.34" y1="507.50" x2="398.55" y2="507.50" stroke="#222" stroke-width="1.1"/>
<text x="386.95" y="517.50" font-size="7.6" text-anchor="middle" fill="#111" stroke="#111" stroke-width="0.18">6</text>
<text x="405.55" y="502.80" font-size="5.4" fill="#222" stroke="#222" stroke-width="0.1">C</text>
<text x="409.45" y="505.00" font-size="3.8" fill="#222" stroke="#222" stroke-width="0.1">6</text>
<text x="411.56" y="502.80" font-size="5.4" fill="#222" stroke="#222" stroke-width="0.1">C</text>
<text x="415.46" y="505.00" font-size="3.8" fill="#222" stroke="#222" stroke-width="0.1">7</text>
<line x1="406.11" y1="507.50" x2="417.01" y2="507.50" stroke="#222" stroke-width="1.1"/>
<text x="411.56" y="517.50" font-size="7.6" text-anchor="middle" fill="#111" stroke="#111" stroke-width="0.18">1</text>
<text x="424.30" y="502.80" font-size="5.4" fill="#222" stroke="#222" stroke-width="0.1">A</text>
<text x="427.91" y="505.00" font-size="3.8" fill="#222" stroke="#222" stroke-width="0.1">5</text>
<text x="430.02" y="502.80" font-size="5.4" fill="#222" stroke="#222" stroke-width="0.1">A</text>
<text x="433.62" y="505.00" font-size="3.8" fill="#222" stroke="#222" stroke-width="0.1">8</text>
<line x1="424.57" y1="507.50" x2="435.47" y2="507.50" stroke="#222" stroke-width="1.1"/>
<text x="430.02" y="517.50" font-size="7.6" text-anchor="middle" fill="#111" stroke="#111" stroke-width="0.18">2</text>
<text x="442.54" y="502.80" font-size="5.4" fill="#222" stroke="#222" stroke-width="0.1">A</text>
<text x="446.15" y="505.00" font-size="3.8" fill="#222" stroke="#222" stroke-width="0.1">4</text>
<line x1="443.02" y1="507.50" x2="447.78" y2="507.50" stroke="#222" stroke-width="1.1"/>
<text x="445.40" y="517.50" font-size="7.6" text-anchor="middle" fill="#111" stroke="#111" stroke-width="0.18">3</text>
<text x="455.07" y="502.80" font-size="5.4" fill="#222" stroke="#222" stroke-width="0.1">A</text>
<text x="458.67" y="505.00" font-size="3.8" fill="#222" stroke="#222" stroke-width="0.1">7</text>
<text x="460.78" y="502.80" font-size="5.4" fill="#222" stroke="#222" stroke-width="0.1">A</text>
<text x="464.39" y="505.00" font-size="3.8" fill="#222" stroke="#222" stroke-width="0.1">8</text>
<line x1="455.33" y1="507.50" x2="466.24" y2="507.50" stroke="#222" stroke-width="1.1"/>
<text x="460.78" y="517.50" font-size="7.6" text-anchor="middle" fill="#111" stroke="#111" stroke-width="0.18">4</text>
<text x="473.37" y="502.80" font-size="5.4" fill="#222" stroke="#222" stroke-width="0.1">C</text>
<text x="477.27" y="505.00" font-size="3.8" fill="#222" stroke="#222" stroke-width="0.1">5</text>
<text x="479.38" y="502.80" font-size="5.4" fill="#222" stroke="#222" stroke-width="0.1">C</text>
<text x="483.28" y="505.00" font-size="3.8" fill="#222" stroke="#222" stroke-width="0.1">6</text>
<text x="485.40" y="502.80" font-size="5.4" fill="#222" stroke="#222" stroke-width="0.1">C</text>
<text x="489.29" y="505.00" font-size="3.8" fill="#222" stroke="#222" stroke-width="0.1">7</text>
<text x="491.41" y="502.80" font-size="5.4" fill="#222" stroke="#222" stroke-width="0.1">C</text>
<text x="495.31" y="505.00" font-size="3.8" fill="#222" stroke="#222" stroke-width="0.1">8</text>
<line x1="473.79" y1="507.50" x2="497.00" y2="507.50" stroke="#222" stroke-width="1.1"/>
<text x="485.40" y="517.50" font-size="7.6" text-anchor="middle" fill="#111" stroke="#111" stroke-width="0.18">5</text>
<text x="504.07" y="502.80" font-size="5.4" fill="#222" stroke="#222" stroke-width="0.1">A</text>
<text x="507.68" y="505.00" font-size="3.8" fill="#222" stroke="#222" stroke-width="0.1">5</text>
<line x1="504.56" y1="507.50" x2="509.31" y2="507.50" stroke="#222" stroke-width="1.1"/>
<text x="506.93" y="517.50" font-size="7.6" text-anchor="middle" fill="#111" stroke="#111" stroke-width="0.18">6</text>
<path d="M289.20,521.8 Q289.80,524.2 292.70,524.2 L340.60,524.2 Q343.50,524.2 344.10,525.8 Q344.70,524.2 347.60,524.2 L395.90,524.2 Q398.80,524.2 399.40,521.8" fill="none" stroke="#222" stroke-width="1.1"/>
<path d="M406.90,521.8 Q407.50,524.2 410.40,524.2 L455.10,524.2 Q458.00,524.2 458.60,525.8 Q459.20,524.2 462.10,524.2 L506.10,524.2 Q509.00,524.2 509.60,521.8" fill="none" stroke="#222" stroke-width="1.1"/>
<text x="344.10" y="536.20" font-size="7.6" text-anchor="middle" fill="#222" stroke="#222" stroke-width="0.1">p.sgBCL-</text>
<text x="458.20" y="536.20" font-size="7.6" text-anchor="middle" fill="#222" stroke="#222" stroke-width="0.1">p.sgHBG-</text>
<text transform="translate(267.4,402.7) rotate(-90) scale(0.865,1)" font-size="7.6" text-anchor="middle" fill="#111" stroke="#111" stroke-width="0.2">% base conversion</text>
<rect x="0.5" y="0.5" width="519" height="544" fill="none" stroke="#000" stroke-width="1"/>
</svg>
</div>
</body></html>
